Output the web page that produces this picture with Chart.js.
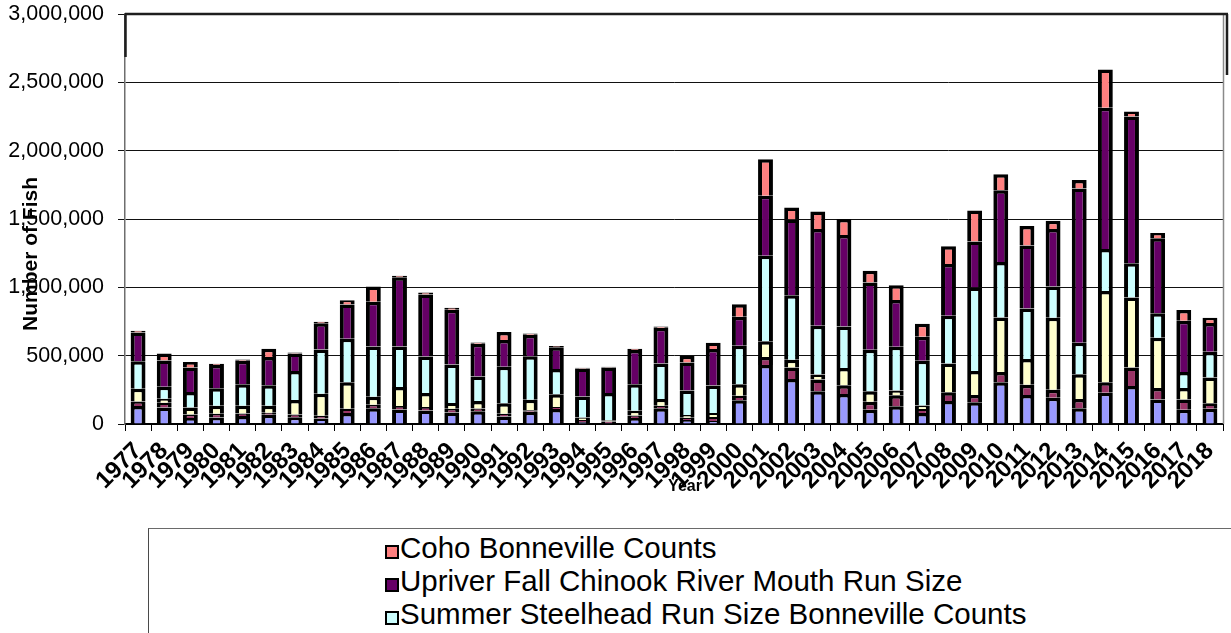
<!DOCTYPE html>
<html>
<head>
<meta charset="utf-8">
<script src="https://cdn.jsdelivr.net/npm/chart.js@4.4.1/dist/chart.umd.min.js"></script>
<style>
  html, body { margin: 0; padding: 0; background: #fff; overflow: hidden; width: 1231px; height: 633px; }
  #wrap { position: absolute; left: 0; top: 0; width: 1231px; height: 633px; }
  #legend {
    position: absolute; left: 148px; top: 528px; width: 1200px; height: 260px;
    border-top: 1px solid #6a6a6a; border-left: 1px solid #4a4a4a; background: #fff;
    font-family: "Liberation Sans", Arial, sans-serif; font-size: 29.5px; color: #000;
  }
  .item { position: absolute; left: 236px; height: 33px; line-height: 33px; white-space: nowrap; }
  .sw { display: inline-block; box-sizing: border-box; width: 14px; height: 14px; border: 2px solid #000; margin-right: 1px; vertical-align: -1px; }
</style>
</head>
<body>
<div id="wrap"><canvas id="c" width="1231" height="633"></canvas></div>
<div id="legend"></div>
<script>
// Run sizes by year (number of fish)
const years = ['1977','1978','1979','1980','1981','1982','1983','1984','1985','1986',
  '1987','1988','1989','1990','1991','1992','1993','1994','1995','1996','1997','1998',
  '1999','2000','2001','2002','2003','2004','2005','2006','2007','2008','2009','2010',
  '2011','2012','2013','2014','2015','2016','2017','2018'];

const springChinook = [131000,121000,43000,48000,58000,67000,50000,40000,80000,116000,
  107000,99000,85000,94000,55000,90000,109000,15000,8000,43000,116000,30000,
  22000,173000,432000,330000,239000,219000,104000,129000,80000,168000,160000,305000,
  212000,192000,116000,229000,278000,180000,104000,112000];

const summerChinook = [34000,35000,27000,27000,19000,15000,20000,20000,31000,25000,
  24000,25000,26000,20000,20000,10000,15000,15000,10000,19000,18000,15000,
  30000,34000,59000,83000,86000,64000,59000,81000,30000,64000,52000,76000,
  76000,59000,67000,76000,135000,83000,76000,39000];

const sockeye = [93000,29000,51000,59000,57000,52000,105000,162000,194000,59000,
  140000,103000,42000,54000,76000,78000,93000,18000,10000,35000,49000,20000,
  28000,83000,115000,57000,37000,127000,76000,36000,25000,210000,176000,399000,
  187000,527000,181000,669000,512000,368000,83000,189000];

const summerSteelhead = [201000,88000,113000,127000,156000,149000,213000,323000,318000,367000,
  296000,267000,282000,179000,267000,318000,186000,154000,199000,193000,259000,181000,
  201000,282000,625000,472000,357000,304000,304000,319000,327000,350000,610000,405000,
  370000,228000,230000,307000,252000,179000,118000,188000];

const upriverFallChinook = [211000,191000,179000,171000,172000,208000,127000,193000,252000,328000,
  507000,453000,401000,241000,196000,157000,159000,205000,186000,252000,262000,204000,
  267000,213000,439000,554000,708000,669000,492000,343000,176000,378000,338000,526000,
  462000,421000,1130000,1033000,1073000,550000,375000,211000];

const coho = [12000,52000,41000,8000,10000,59000,8000,10000,30000,111000,
  10000,15000,15000,8000,60000,10000,8000,5000,5000,8000,10000,48000,
  46000,91000,267000,88000,128000,117000,86000,108000,96000,130000,226000,116000,
  142000,61000,61000,280000,37000,38000,78000,39000];

const seriesNames = [
  'Spring Chinook River Mouth Run Size',
  'Summer Chinook Bonneville Counts',
  'Sockeye Bonneville Counts',
  'Summer Steelhead Run Size Bonneville Counts',
  'Upriver Fall Chinook River Mouth Run Size',
  'Coho Bonneville Counts'
];
const seriesValues = [springChinook, summerChinook, sockeye, summerSteelhead, upriverFallChinook, coho];
const seriesColors = ['#9999FF', '#993366', '#FFFFCC', '#CCFFFF', '#660066', '#FF8080'];

const FONT = '"Liberation Sans", Arial, sans-serif';

// Plot frame pieces and axis titles
const framePlugin = {
  id: 'frame',
  afterDraw(chart) {
    const { ctx, chartArea: a } = chart;
    ctx.save();
    ctx.lineCap = 'butt';
    ctx.strokeStyle = '#8a8a8a';
    ctx.lineWidth = 1.5;
    ctx.beginPath();
    ctx.moveTo(a.right + 0.5, a.top);
    ctx.lineTo(a.right + 0.5, a.bottom);
    ctx.stroke();

    ctx.strokeStyle = '#1e1e1e';
    ctx.lineWidth = 2.5;
    ctx.beginPath();
    ctx.moveTo(a.left, a.top);
    ctx.lineTo(a.right + 5, a.top);
    ctx.moveTo(a.left + 0.5, a.top);
    ctx.lineTo(a.left + 0.5, a.top + 43);
    ctx.moveTo(a.right + 4, a.top);
    ctx.lineTo(a.right + 4, a.top + 61);
    ctx.stroke();

    ctx.fillStyle = '#000';
    ctx.textAlign = 'center';
    ctx.textBaseline = 'middle';
    ctx.font = 'bold 16px ' + FONT;
    ctx.fillText('Year', 685, 487);
    ctx.translate(31, 254);
    ctx.rotate(-Math.PI / 2);
    ctx.font = 'bold 21px ' + FONT;
    ctx.fillText('Number of Fish', 0, 0);
    ctx.restore();
  }
};

const chart = new Chart(document.getElementById('c'), {
  type: 'bar',
  data: {
    labels: years,
    datasets: seriesNames.map((name, i) => ({
      label: name,
      data: seriesValues[i],
      backgroundColor: seriesColors[i],
      borderColor: '#000',
      borderWidth: { top: 3.5, left: 4, right: 4, bottom: 0 },
      borderSkipped: 'start',
      inflateAmount: 0,
      barPercentage: 0.57,
      categoryPercentage: 1.0
    }))
  },
  options: {
    responsive: false,
    animation: false,
    devicePixelRatio: 1,
    layout: { padding: { left: 0, top: 14, right: 8, bottom: 0 } },
    plugins: {
      legend: { display: false },
      tooltip: { enabled: false }
    },
    scales: {
      x: {
        stacked: true,
        grid: { drawOnChartArea: false, drawTicks: true, tickLength: 7, color: '#000', offset: true },
        border: { display: true, color: '#000', width: 2 },
        ticks: {
          color: '#000', font: { family: FONT, size: 24, weight: 'bold' },
          minRotation: 45, maxRotation: 45, autoSkip: false, padding: 6
        },
        afterFit(scale) {
          scale.height = 209;
          scale.paddingLeft = 0;
          scale.paddingRight = 0;
        }
      },
      y: {
        stacked: true,
        min: 0, max: 3000000,
        grid: { color: '#111', lineWidth: 1, tickLength: 7, drawTicks: true },
        border: { display: true, color: '#6e6e6e', width: 1.5 },
        ticks: {
          stepSize: 500000, color: '#000', padding: 14,
          font: { family: FONT, size: 21.5 },
          callback: v => Number(v).toLocaleString('en-US')
        },
        afterFit(scale) {
          scale.width = 125;
          scale.paddingTop = 0;
          scale.paddingBottom = 0;
        }
      }
    }
  },
  plugins: [framePlugin]
});

// Legend, listed top series first
const legendBox = document.getElementById('legend');
const legendItems = Chart.defaults.plugins.legend.labels.generateLabels(chart).reverse();
legendItems.forEach((it, i) => {
  const row = document.createElement('div');
  row.className = 'item';
  row.style.top = (2 + i * 33) + 'px';
  const sw = document.createElement('span');
  sw.className = 'sw';
  sw.style.background = it.fillStyle;
  row.appendChild(sw);
  row.appendChild(document.createTextNode(it.text));
  legendBox.appendChild(row);
});
</script>
</body>
</html>
